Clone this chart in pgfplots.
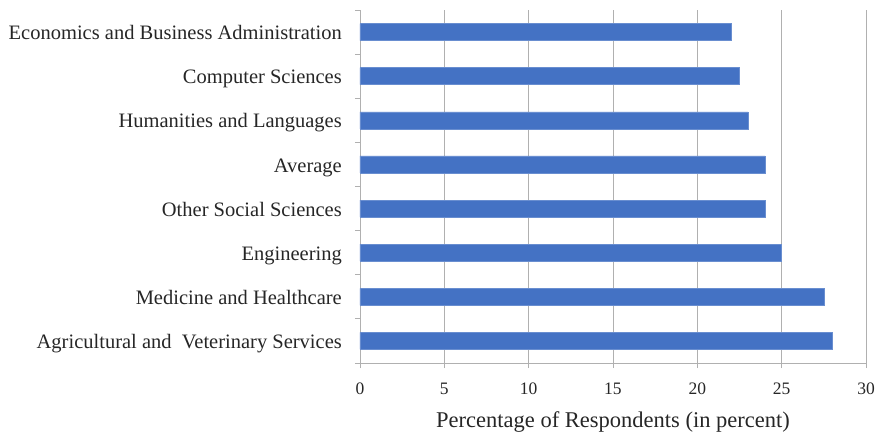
\documentclass[border=0pt]{standalone}
\usepackage{fontspec}
\setmainfont{Liberation Serif}
\usepackage{pgfplots}
\pgfplotsset{compat=1.18}
\definecolor{barblue}{HTML}{4472C4}
\definecolor{gridgray}{HTML}{B0B0B0}
\definecolor{txt}{HTML}{262626}
\begin{document}
\begin{tikzpicture}
\path[use as bounding box] (-360pt,-71pt) rectangle (523pt,363pt);
\begin{axis}[
  at={(0,0)}, anchor=south west,
  scale only axis, width=506pt, height=353pt,
  xbar, bar width=17pt,
  xmin=0, xmax=30, ymin=-0.5, ymax=7.5,
  xtick={0,5,...,30},
  xticklabels={0,5,10,15,20,25,30},
  ytick={-0.5,0.5,...,7.5},
  yticklabels={Agricultural and~ Veterinary Services, Medicine and Healthcare, Engineering, Other Social Sciences, Average, Humanities and Languages, Computer Sciences, Economics and Business Administration, {}},
  yticklabel style={anchor=base east, yshift=14.5pt, font=\fontsize{20.5}{24}\selectfont, text=txt, inner sep=0pt, xshift=-13pt},
  xticklabel style={anchor=center, yshift=-20.5pt, font=\fontsize{17.5}{21}\selectfont, text=txt},
  axis x line*=bottom, axis y line*=left,
  axis line style={gridgray, line width=0.9pt},
  tick align=outside, major tick length=5pt,
  tick style={gridgray, line width=0.9pt},
  xmajorgrids, grid style={gridgray, line width=0.9pt},
  xlabel={Percentage of Respondents (in percent)},
  xlabel style={at={(axis description cs:0.5,0)}, anchor=base, yshift=-64pt, inner sep=0pt, font=\fontsize{22.5}{27}\selectfont, text=txt},
]
\addplot[fill=barblue, draw=barblue!80!white] coordinates {
  (28,0) (27.5,1) (25,2) (24,3) (24,4) (23,5) (22.5,6) (22,7)
};
\end{axis}
\end{tikzpicture}
\end{document}
